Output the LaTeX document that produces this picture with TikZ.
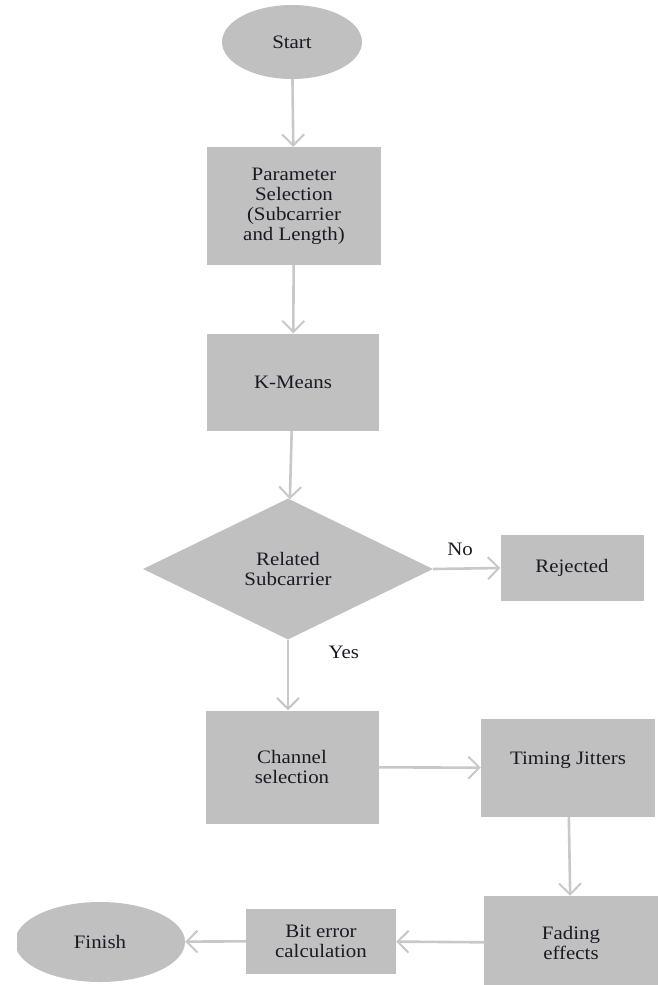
\documentclass[tikz,border=0pt]{standalone}
\usepackage{fontspec}
\setmainfont{Liberation Serif}[FakeStretch=1.1]
\usetikzlibrary{shapes.geometric, arrows.meta, positioning}
\definecolor{boxgray}{HTML}{C0C0C0}
\definecolor{linegray}{HTML}{C8C8C8}
\definecolor{txtdark}{HTML}{1A1A24}

\begin{document}
\begin{tikzpicture}[x=1pt, y=-1pt, font=\fontsize{19}{20}\selectfont, text=txtdark,
  blk/.style={fill=boxgray, align=center, inner sep=2pt},
  term/.style={ellipse, fill=boxgray, inner sep=0pt},
  lbl/.style={text=txtdark},
  flow/.style={-{Straight Barb[length=11pt, width=22pt, line width=2pt]}, line width=2.6pt, linegray}]
\useasboundingbox (0,0) rectangle (659,985);
\begin{scope}
\clip (17,0) rectangle (659,985);
\node[term, minimum width=140pt, minimum height=74pt] (start) at (292,42) {Start};
\node[blk, minimum width=174pt, minimum height=118pt] (param) at (294,206) {Parameter\\Selection\\(Subcarrier\\and Length)};
\node[blk, minimum width=172pt, minimum height=97pt] (kmeans) at (293,382) {K-Means};
\node[diamond, fill=boxgray, aspect=2, inner sep=0pt, align=center, minimum width=290pt, minimum height=141pt] (related) at (288,569) {Related\\Subcarrier};
\node[blk, minimum width=143pt, minimum height=66pt] (reject) at (572,568) {Rejected};
\node[blk, minimum width=173pt, minimum height=113pt] (chan) at (292,767) {Channel\\selection};
\node[blk, minimum width=174pt, minimum height=98pt] (jitter) at (568,768) {Timing Jitters\\\mbox{}};
\node[blk, minimum width=174pt, minimum height=94pt] (fade) at (571,943) {Fading\\effects};
\node[blk, minimum width=150pt, minimum height=65pt] (biterr) at (321,941) {Bit error\\calculation};
\node[term, minimum width=170pt, minimum height=80pt] (finish) at (100,942) {Finish};
% connectors
\draw[flow] (start) -- (param);
\draw[flow] (param) -- (kmeans);
\draw[flow] (kmeans) -- (related);
\draw[flow] (related.east) -- node[lbl, pos=0.4, above=8pt] (nolbl) {No} (reject.west);
\draw[flow] (related.south) -- node[lbl, pos=0.18, right=36pt] (yeslbl) {Yes} (related.south |- chan.north);
\draw[flow] (chan) -- (jitter);
\draw[flow] (jitter) -- (fade);
\draw[flow] (fade) -- (biterr);
\draw[flow] (biterr) -- (finish);
\end{scope}
\end{tikzpicture}
\end{document}
